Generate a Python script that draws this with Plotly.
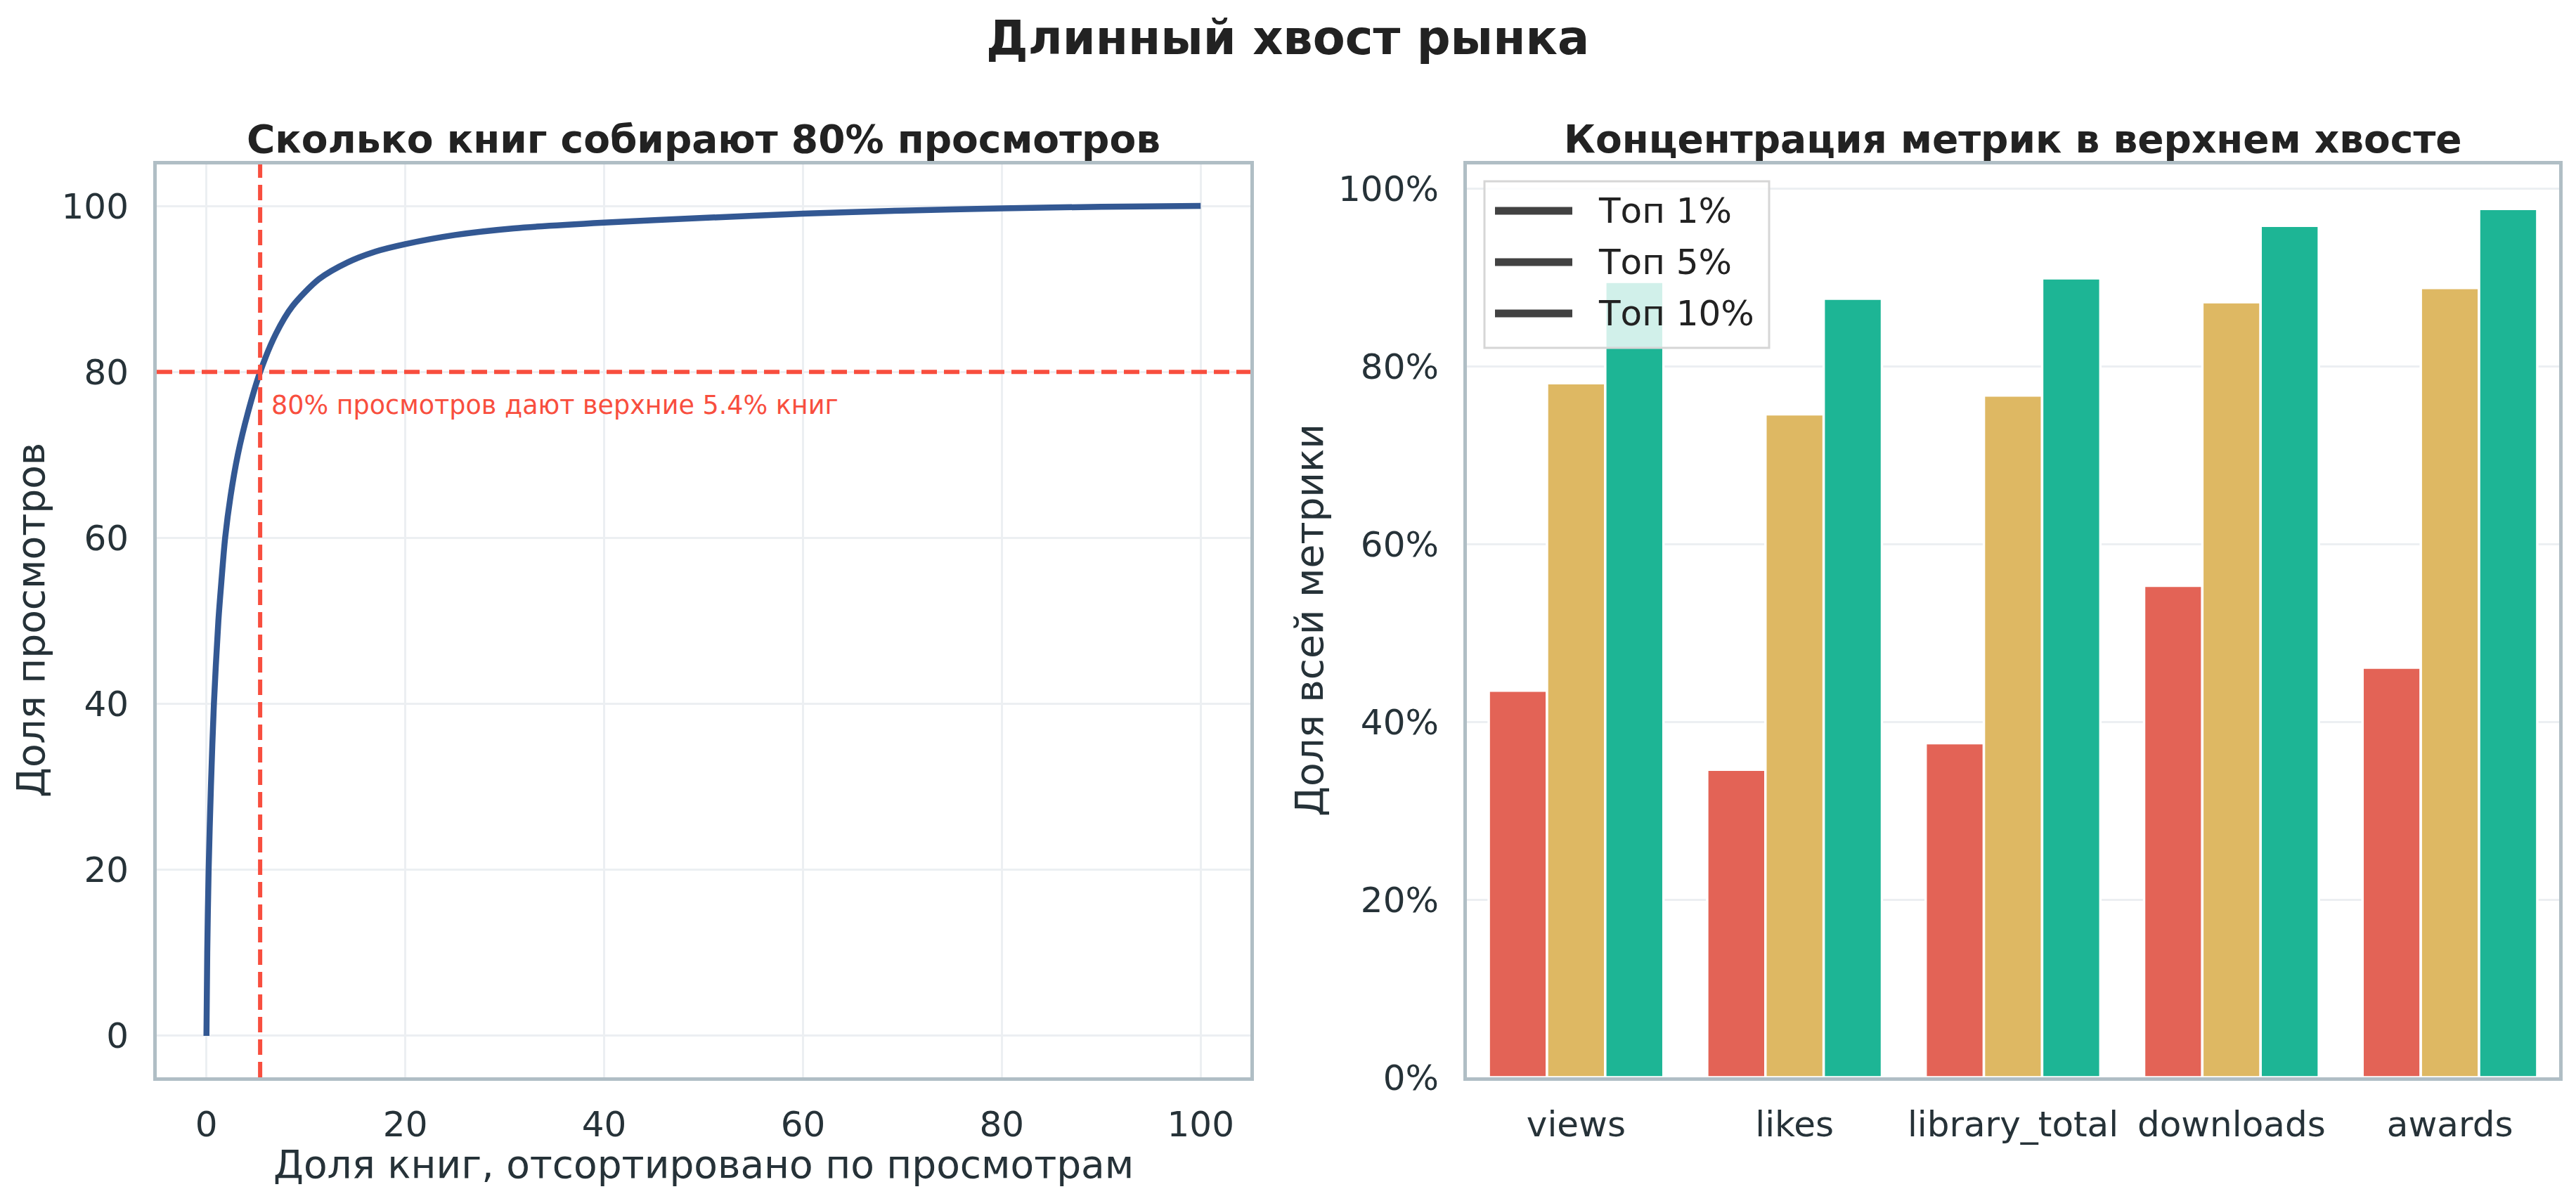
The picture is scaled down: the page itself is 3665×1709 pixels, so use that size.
import plotly.graph_objects as go

W, H = 3665, 1709
OFFSET = 8  # страница сдвигает фигуру на отступ body

# левый график: кумулятивная доля просмотров
books_share = [0, 0.08, 0.22, 0.45, 0.75, 1.2, 1.52, 1.88, 2.42, 3.15, 4.15, 5.4,
               6.99, 8.64, 11.34, 14.2, 17.0, 20, 25, 30.9, 40, 50, 60, 70, 80, 90, 100]
views_share = [0, 10, 20, 30, 40, 50, 55, 60, 65, 70, 75, 80,
               84.6, 87.9, 91.2, 93.2, 94.5, 95.4, 96.5, 97.3, 98.0, 98.56, 99.07, 99.44, 99.7, 99.9, 100]
views_cutoff = 80
books_cutoff = 5.4

# правый график: доля метрики у верхних книг
metrics = ["views", "likes", "library_total", "downloads", "awards"]
top_1 = [0.435, 0.346, 0.376, 0.553, 0.461]
top_5 = [0.781, 0.746, 0.767, 0.872, 0.888]
top_10 = [0.895, 0.876, 0.899, 0.958, 0.977]
group_names = ["Топ 1%", "Топ 5%", "Топ 10%"]
group_colors = ["#E36356", "#DEB863", "#1DB595"]

FONT = "DejaVu Sans"
TXT = "#263238"
DARK = "#222222"
RED = "#F84E3E"
FRAME = "#B0BEC5"
GRID = "#ECEFF2"


def px_x(v):
    return (v - OFFSET) / W


def px_y(v):
    return 1 - (v - OFFSET) / H


fig = go.Figure()

fig.add_trace(go.Scatter(
    x=books_share, y=views_share, mode="lines", xaxis="x", yaxis="y",
    line=dict(color="#335893", width=8.5, shape="spline", smoothing=0.8),
    showlegend=False,
))

for name, vals, color in zip(group_names, [top_1, top_5, top_10], group_colors):
    fig.add_trace(go.Bar(
        x=metrics, y=vals, name=name, xaxis="x2", yaxis="y2",
        marker=dict(color=color, line=dict(color="white", width=3.5)),
        showlegend=False,
    ))

axis_common = dict(
    showline=True, mirror=True, linewidth=5, linecolor=FRAME,
    showgrid=True, gridcolor=GRID, gridwidth=2.5, zeroline=False,
    tickfont=dict(family=FONT, size=50, color=TXT), ticks="",
    automargin=False,
)

fig.update_layout(
    width=W, height=H,
    margin=dict(l=0, r=0, t=0, b=0),
    paper_bgcolor="white", plot_bgcolor="white",
    font=dict(family=FONT, color=TXT),
    barmode="group", bargap=0.2, bargroupgap=0,
    xaxis=dict(domain=[px_x(223), px_x(1779)], range=[-5, 105],
               tickvals=[0, 20, 40, 60, 80, 100], ticklabelstandoff=19,
               anchor="y", **axis_common),
    yaxis=dict(domain=[px_y(1533), px_y(234)], range=[-5, 105],
               tickvals=[0, 20, 40, 60, 80, 100], ticklabelstandoff=25,
               anchor="x", **axis_common),
    xaxis2=dict(domain=[px_x(2087), px_x(3641)], range=[-0.5, 4.5],
                ticklabelstandoff=19, anchor="y2",
                **{**axis_common, "showgrid": False}),
    yaxis2=dict(domain=[px_y(1533), px_y(234)], range=[0, 1.027],
                tickvals=[0, 0.2, 0.4, 0.6, 0.8, 1.0], tickformat=".0%",
                ticklabelstandoff=25, anchor="x2", **axis_common),
)

# пороговые линии
fig.add_shape(type="line", xref="x", yref="y domain", x0=books_cutoff, x1=books_cutoff,
              y0=0, y1=1, line=dict(color=RED, width=6, dash="22px,10px"))
fig.add_shape(type="line", xref="x domain", yref="y", x0=0, x1=1,
              y0=views_cutoff, y1=views_cutoff, line=dict(color=RED, width=6, dash="22px,10px"))
fig.add_annotation(x=books_cutoff + 1, y=views_cutoff - 2, xref="x", yref="y",
                   text=f"{views_cutoff}% просмотров дают верхние {books_cutoff}% книг",
                   showarrow=False, xanchor="left", yanchor="top",
                   font=dict(family=FONT, size=36.5, color=RED))

# заголовки
titles = [
    ("Длинный хвост рынка", 1832, 54, 67),
    ("Сколько книг собирают 80% просмотров", 1001, 198, 55),
    ("Концентрация метрик в верхнем хвосте", 2864, 198, 55),
]
for text, cx, cy, size in titles:
    fig.add_annotation(x=px_x(cx), y=px_y(cy), xref="paper", yref="paper", text=text,
                       showarrow=False, xanchor="center", yanchor="middle",
                       font=dict(family=FONT, size=size, color=DARK, weight="bold"))

axis_titles = [
    ("Доля книг, отсортировано по просмотрам", 1001, 1657, 0),
    ("Доля просмотров", 44, 883, -90),
    ("Доля всей метрики", 1863, 883, -90),
]
for text, cx, cy, ang in axis_titles:
    fig.add_annotation(x=px_x(cx), y=px_y(cy), xref="paper", yref="paper", text=text,
                       showarrow=False, xanchor="center", yanchor="middle", textangle=ang,
                       font=dict(family=FONT, size=55, color=TXT))

# легенда (рамка полупрозрачная, поверх столбцов)
fig.add_shape(type="rect", xref="paper", yref="paper", layer="above",
              x0=px_x(2112), x1=px_x(2517), y0=px_y(495), y1=px_y(258),
              fillcolor="rgba(255,255,255,0.8)", line=dict(color="#D6D6D6", width=3))
for i, name in enumerate(group_names):
    yy = px_y(300 + i * 73)
    fig.add_shape(type="line", xref="paper", yref="paper", layer="above",
                  x0=px_x(2127), x1=px_x(2237), y0=yy, y1=yy,
                  line=dict(color="#424242", width=11))
    fig.add_annotation(x=px_x(2272), y=yy, xref="paper", yref="paper", text=name,
                       showarrow=False, xanchor="left", yanchor="middle",
                       font=dict(family=FONT, size=50, color=DARK))

fig.write_html("out.html")
